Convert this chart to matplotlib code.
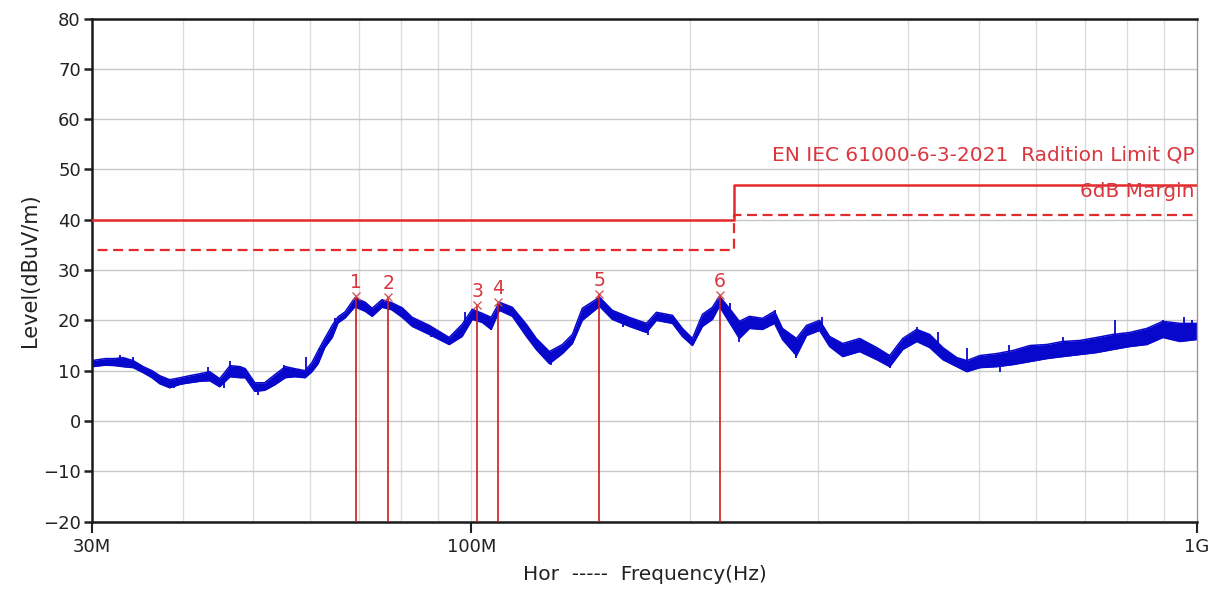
import numpy as np
import matplotlib
matplotlib.use("Agg")
import matplotlib.pyplot as plt
from matplotlib.ticker import NullFormatter

plt.rcParams['font.family'] = ['DejaVu Sans']

# Trace: frequency (MHz), lower and upper edge of the noisy band (dBuV/m)
trace_freq = [30.0, 31.3, 32.3, 33.1, 34.2, 35.3, 36.3, 37.2, 38.4, 39.7, 40.9, 42.3,
              43.6, 45.0, 46.5, 48.0, 48.8, 50.3, 51.9, 53.6, 55.4, 57.1, 59.0, 60.3,
              61.5, 62.8, 64.3, 65.5, 67.0, 69.1, 71.4, 73.0, 75.3, 77.7, 80.3,
              82.9, 87.5, 93.2, 97.1, 100.3, 103.5, 106.5, 109.3, 113.9, 119.1, 122.9,
              128.1, 133.5, 137.8, 142.2, 150.2, 156.4, 165.1, 174.3, 179.9, 189.3,
              195.4, 201.7, 208.2, 214.9, 219.7, 226.8, 234.1, 241.7, 251.9, 261.7,
              268.4, 280.6, 289.7, 301.9, 311.7, 324.9, 342.9, 361.9, 377.2, 393.1,
              411.0, 428.2, 446.4, 466.6, 481.8, 502.0, 529.9, 557.4, 588.4, 620.9,
              653.2, 689.5, 727.7, 765.5, 808.2, 853.0, 897.5, 947.5, 1000.0]
trace_lo = [10.8, 11.1, 11.0, 10.8, 10.6, 9.6, 8.6, 7.4, 6.6, 7.3, 7.6, 7.9,
            8.0, 6.8, 8.8, 8.6, 8.6, 5.9, 6.1, 7.2, 8.6, 8.8, 8.6, 9.8,
            11.4, 14.6, 16.6, 19.5, 20.5, 22.7, 21.8, 20.8, 22.6, 22.1, 20.6,
            18.8, 17.2, 15.2, 16.8, 20.2, 19.6, 18.2, 22.0, 20.8, 16.8, 14.2,
            11.4, 13.4, 15.4, 20.0, 22.8, 20.2, 18.8, 17.6, 20.0, 19.4,
            16.8, 15.0, 18.8, 20.2, 22.8, 19.6, 16.4, 18.4, 18.2, 19.4,
            16.2, 13.0, 17.0, 18.0, 14.8, 12.8, 13.8, 12.2, 10.8, 14.2,
            15.8, 14.6, 12.2, 10.8, 9.8, 10.6, 10.8, 11.2, 11.8, 12.4,
            12.8, 13.2, 13.6, 14.2, 14.8, 15.2, 16.6, 15.8, 16.2]
trace_hi = [12.0, 12.4, 12.4, 12.6, 12.0, 10.8, 10.0, 9.0, 8.2, 8.6, 9.0, 9.4,
            9.8, 8.4, 11.0, 10.8, 10.4, 7.6, 7.6, 9.2, 10.8, 10.4, 10.0, 11.6,
            14.0, 16.4, 19.0, 20.7, 21.7, 24.5, 23.6, 22.4, 24.1, 23.5, 22.5,
            20.6, 19.0, 16.6, 19.2, 22.2, 21.4, 20.6, 23.6, 22.6, 19.2, 16.4,
            13.8, 15.2, 17.2, 22.4, 24.6, 22.0, 20.6, 19.4, 21.6, 21.0,
            18.4, 16.4, 21.2, 22.6, 24.8, 22.4, 19.8, 20.8, 20.4, 21.8,
            18.4, 16.4, 19.0, 20.0, 16.8, 15.4, 16.4, 14.6, 13.0, 16.4,
            18.2, 17.2, 14.6, 12.6, 12.0, 13.0, 13.4, 14.0, 15.0, 15.2,
            15.8, 16.0, 16.6, 17.2, 17.6, 18.4, 19.8, 19.4, 19.4]

# isolated spikes sticking out of the band: frequency (MHz), tip level
spike_freq = [32.8, 34.2, 37.3, 38.9, 43.3, 45.6, 46.5, 50.8, 55.1, 59.1, 61.9, 64.9,
              73.4, 85.1, 88.1, 98.1, 106.3, 128.6, 162.0, 175.0, 227.0, 234.0,
              262.0, 280.6, 304.0, 377.0, 411.0, 439.0, 482.0, 535.0, 551.0, 653.0,
              771.0, 860.0, 898.0, 960.0, 985.0]
spike_level = [13.1, 12.7, 7.6, 6.6, 10.7, 6.6, 11.9, 5.2, 11.1, 12.7, 14.5, 20.5,
               21.1, 18.1, 16.7, 21.7, 18.1, 11.1, 18.7, 17.1, 23.5, 15.7,
               22.1, 12.5, 20.7, 10.5, 18.7, 17.7, 14.5, 9.7, 15.1, 16.7,
               20.1, 18.5, 20.1, 20.7, 20.1]

# Limit (QP) and margin
limit_freq = [30.0, 230.0, 1000.0]
limit_level = [40.0, 47.0, 47.0]
margin_db = 6.0

# Markers
marker_freq = [69.3, 76.8, 101.9, 108.9, 150.1, 220.0]
marker_level = [24.8, 24.6, 23.0, 23.6, 25.2, 25.0]
marker_label = ['1', '2', '3', '4', '5', '6']

x_ticks = [30, 100, 1000]
x_ticklabels = ['30M', '100M', '1G']
x_grid = [40, 50, 60, 70, 80, 90, 200, 300, 400, 500, 600, 700, 800, 900]
y_ticks = list(range(-20, 81, 10))

red = '#e42a2a'
blue = '#0808cc'
text_red = '#d9363e'

fig = plt.figure(figsize=(12.21, 5.97), dpi=100)
ax = fig.add_axes([0.0753, 0.1263, 0.9050, 0.8427])

ax.set_xscale('log')
ax.set_xlim(30, 1000)
ax.set_ylim(-20, 80)

# grid
for f in x_grid + [100]:
    ax.axvline(f, color='#dcdcdc', lw=1.0, zorder=0)
for v in y_ticks:
    ax.axhline(v, color='#c8c8c8', lw=1.0, zorder=0)

# trace band
ax.fill_between(trace_freq, trace_lo, trace_hi, color=blue, lw=0, zorder=2)
ax.plot(trace_freq, trace_lo, color=blue, lw=1.1, zorder=2)
ax.plot(trace_freq, trace_hi, color=blue, lw=1.1, zorder=2)

# spikes start from the middle of the band
logf = np.log10(trace_freq)
band_mid = (np.array(trace_lo) + np.array(trace_hi)) / 2
spike_base = np.interp(np.log10(spike_freq), logf, band_mid)
ax.vlines(spike_freq, spike_base, spike_level, color=blue, lw=1.3, zorder=2)

# limit lines
margin_level = [v - margin_db for v in limit_level]
ax.plot(limit_freq, limit_level, drawstyle='steps-post', color=red, lw=1.8, zorder=3)
ax.plot(limit_freq, margin_level, drawstyle='steps-post', color=red, lw=1.6,
        linestyle=(4.5, (4.5, 2.5)), zorder=3)

# markers
ax.vlines(marker_freq, -20, marker_level, color='#cc1c1c', lw=1.2, zorder=4)
ax.plot(marker_freq, marker_level, 'x', color='#d84848', ms=6, mew=0.9, zorder=5)
for f, v, t in zip(marker_freq, marker_level, marker_label):
    ax.annotate(t, (f, v), xytext=(0, 3), textcoords='offset points',
                ha='center', va='bottom', fontsize=13.5, color=text_red)

ax.text(993, 52.8, 'EN IEC 61000-6-3-2021  Radition Limit QP', ha='right', va='center',
        fontsize=14.5, color=text_red)
ax.text(993, 45.6, '6dB Margin', ha='right', va='center', fontsize=14.5, color=text_red)

# axes
ax.set_xticks(x_ticks)
ax.set_xticklabels(x_ticklabels)
ax.xaxis.set_minor_formatter(NullFormatter())
ax.tick_params(axis='x', which='minor', length=0)
ax.tick_params(axis='x', which='major', length=8, width=1.5, labelsize=13, colors='#222222', pad=4)
ax.set_yticks(y_ticks)
ax.tick_params(axis='y', length=6, width=1.8, labelsize=13, colors='#222222', pad=2)

for side in ['left', 'bottom', 'top']:
    ax.spines[side].set_color('#1a1a1a')
    ax.spines[side].set_linewidth(1.8)
ax.spines['right'].set_color('#9a9a9a')
ax.spines['right'].set_linewidth(1.0)

ax.set_ylabel('Level(dBuV/m)', fontsize=15, color='#222222', labelpad=2)
ax.set_xlabel('Hor  -----  Frequency(Hz)', fontsize=14.5, color='#222222', labelpad=6)

fig.savefig('out.png', dpi=100)
